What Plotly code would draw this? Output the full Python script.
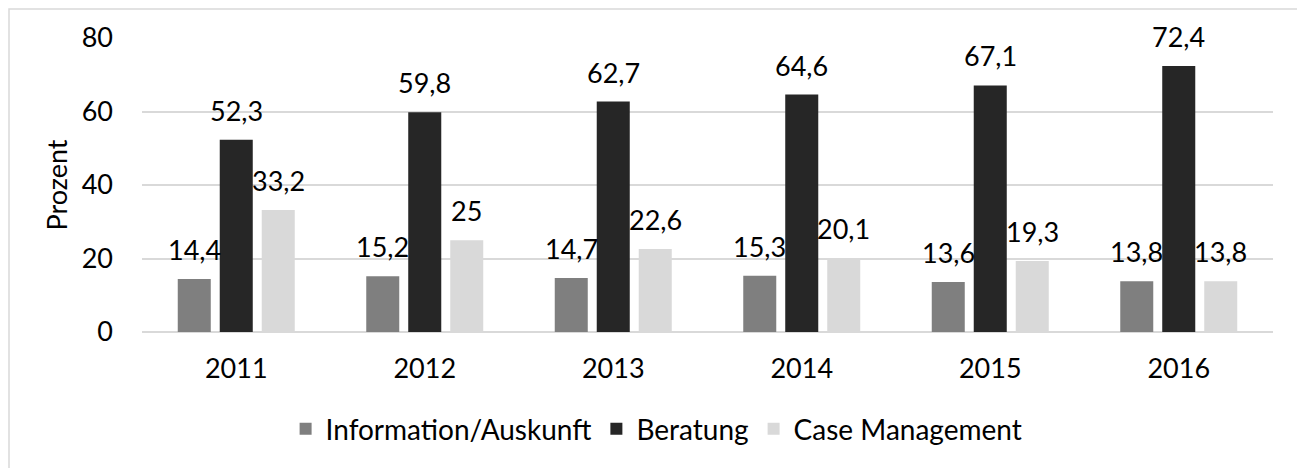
import plotly.graph_objects as go

years = ["2011", "2012", "2013", "2014", "2015", "2016"]
info = [14.4, 15.2, 14.7, 15.3, 13.6, 13.8]
beratung = [52.3, 59.8, 62.7, 64.6, 67.1, 72.4]
case_mgmt = [33.2, 25, 22.6, 20.1, 19.3, 13.8]
series_names = ["Information/Auskunft", "Beratung", "Case Management"]
colors = ["#7f7f7f", "#262626", "#d9d9d9"]
y_ticks = [0, 20, 40, 60, 80]

FONT = "Lato"
FS = 27

def fmt(v):
    return f"{v:g}".replace(".", ",")

fig = go.Figure()
series = [info, beratung, case_mgmt]
for name, vals, col in zip(series_names, series, colors):
    fig.add_trace(go.Bar(
        x=years, y=vals, name=name, marker=dict(color=col, line=dict(width=0)),
        hoverinfo="skip",
    ))

annotations = []
offsets = [-42, 0, 42]
for vals, off in zip(series, offsets):
    for idx, v in enumerate(vals):
        annotations.append(dict(
            x=idx, y=v, xref="x", yref="y", text=fmt(v), showarrow=False,
            xshift=off, yanchor="bottom", yshift=11,
            font=dict(family=FONT, size=FS, color="#000000"),
        ))

# page body has an 8px margin; plot area spans x 142..1273, y 38..332 in the screenshot
PW, PH = 1131, 294
fig.update_layout(
    width=1305, height=468,
    margin=dict(l=134, r=40, t=30, b=144),
    paper_bgcolor="white", plot_bgcolor="white",
    barmode="group", bargap=0.3316, bargroupgap=0.214,
    font=dict(family=FONT, size=FS, color="#000000"),
    annotations=annotations,
    showlegend=True,
    legend=dict(orientation="h", x=0.455, xanchor="center", y=-0.33, yanchor="middle",
                font=dict(family=FONT, size=28, color="#000000"), traceorder="normal"),
    shapes=[dict(type="rect", xref="paper", yref="paper",
                 x0=(9 - 142) / PW, x1=(1301.5 - 142) / PW,
                 y0=-0.6, y1=(332 - 9) / PH,
                 line=dict(color="#d9d9d9", width=1.5), fillcolor="rgba(0,0,0,0)",
                 layer="below")],
)
fig.update_xaxes(type="category", range=[-0.5, len(years) - 0.5], showgrid=False,
                 showline=False, zeroline=False, ticks="",
                 ticklabelstandoff=18, tickfont=dict(family=FONT, size=FS, color="#000000"))
fig.update_yaxes(range=[0, 80], tickvals=y_ticks, showgrid=True, gridcolor="#d9d9d9",
                 gridwidth=1.5, zeroline=True, zerolinecolor="#d9d9d9", zerolinewidth=1.5,
                 showline=False, ticks="", ticklabelstandoff=28,
                 tickfont=dict(family=FONT, size=FS, color="#000000"),
                 title=dict(text="Prozent", standoff=6, font=dict(family=FONT, size=FS, color="#000000")))

fig.write_html("out.html")
